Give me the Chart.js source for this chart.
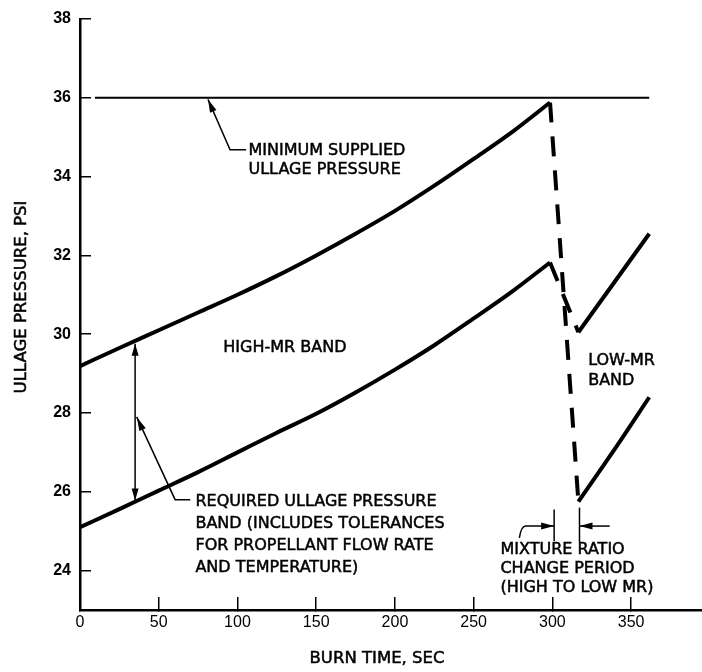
<!DOCTYPE html>
<html>
<head>
<meta charset="utf-8">
<script src="https://cdn.jsdelivr.net/npm/chart.js@4.4.1/dist/chart.umd.min.js"></script>
<style>
  html, body { margin: 0; padding: 0; background: #fff; }
  #wrap { width: 702px; height: 672px; position: relative; }
</style>
</head>
<body>
<div id="wrap"><canvas id="ullageChart"></canvas></div>
<script>
// burn time, sec
const highTime = [0, 25, 50, 75, 100, 125, 150, 175, 200, 225, 250, 275, 298.5];
// high-MR band limits, psi
const highUpper = [29.19, 29.65, 30.1, 30.55, 31.0, 31.48, 32.0, 32.55, 33.13, 33.77, 34.45, 35.15, 35.88];
const highLower = [25.1, 25.56, 26.03, 26.5, 27.0, 27.5, 27.98, 28.52, 29.1, 29.72, 30.4, 31.1, 31.82];
// low-MR band limits, psi
const lowTime = [316.5, 339, 361.5];
const lowUpper = [30.05, 31.3, 32.55];
const lowLower = [25.75, 27.05, 28.4];
// minimum supplied ullage pressure
const minTime = [9.5, 361.5];
const minSupplied = [36, 36];
// axis ticks
const xTicks = [0, 50, 100, 150, 200, 250, 300, 350];
const yTicks = [24, 26, 28, 30, 32, 34, 36, 38];

const pts = (xs, ys) => xs.map((x, i) => ({ x: x, y: ys[i] }));
const last = a => a[a.length - 1];

function curve(data, width, dash) {
    return {
        data: data,
        borderColor: '#000',
        borderWidth: width,
        borderDash: dash || [],
        borderCapStyle: 'butt',
        borderJoinStyle: 'miter',
        pointRadius: 0,
        fill: false,
        cubicInterpolationMode: 'monotone'
    };
}

const labelFont = '16px "DejaVu Sans"';

// leader lines, arrows and notes
const notes = {
    id: 'notes',
    afterDatasetsDraw(chart) {
        const { ctx, scales: { x, y } } = chart;
        const X = v => x.getPixelForValue(v);
        const Y = v => y.getPixelForValue(v);
        ctx.save();
        ctx.strokeStyle = '#000';
        ctx.fillStyle = '#000';
        ctx.lineWidth = 1.5;
        ctx.lineJoin = 'miter';

        function poly(list) {
            ctx.beginPath();
            list.forEach((p, i) => i ? ctx.lineTo(X(p[0]), Y(p[1])) : ctx.moveTo(X(p[0]), Y(p[1])));
            ctx.stroke();
        }
        // arrowhead with tip at (t2, v2), pointing away from (t1, v1)
        function head(t1, v1, t2, v2, len, half) {
            const x1 = X(t1), y1 = Y(v1), x2 = X(t2), y2 = Y(v2);
            const a = Math.atan2(y2 - y1, x2 - x1);
            ctx.beginPath();
            ctx.moveTo(x2, y2);
            ctx.lineTo(x2 - len * Math.cos(a) + half * Math.sin(a), y2 - len * Math.sin(a) - half * Math.cos(a));
            ctx.lineTo(x2 - len * Math.cos(a) - half * Math.sin(a), y2 - len * Math.sin(a) + half * Math.cos(a));
            ctx.closePath();
            ctx.fill();
        }

        // minimum supplied pressure leader
        poly([[81.3, 35.96], [95.3, 34.68], [105.5, 34.68]]);
        head(95.3, 34.68, 81.3, 35.96, 13, 3.5);

        // required band double arrow
        poly([[35, 29.76], [35, 25.78]]);
        head(35, 27.5, 35, 29.76, 12, 3.5);
        head(35, 28, 35, 25.78, 12, 3.5);
        // required band leader
        poly([[36, 27.9], [60.4, 25.8], [70, 25.8]]);
        head(60.4, 25.8, 36, 27.9, 14, 3.5);

        // mixture ratio change period markers
        poly([[301.1, 25.55], [301.1, 24.75]]);
        poly([[317.2, 25.6], [317.2, 24.72]]);
        ctx.beginPath();
        ctx.moveTo(X(279), Y(24.83));
        ctx.quadraticCurveTo(X(280.2), Y(25.13), X(283), Y(25.13));
        ctx.lineTo(X(301.1), Y(25.13));
        ctx.stroke();
        head(283, 25.13, 301.1, 25.13, 13, 3.5);
        poly([[336.4, 25.13], [317.2, 25.13]]);
        head(336.4, 25.13, 317.2, 25.13, 13, 3.5);

        // notes
        ctx.font = labelFont;
        ctx.textAlign = 'left';
        ctx.textBaseline = 'middle';
        ctx.lineWidth = 0.5;
        function text(lines, t, v0, step) {
            lines.forEach((s, i) => {
                ctx.fillText(s, X(t), Y(v0) + i * step);
                ctx.strokeText(s, X(t), Y(v0) + i * step);
            });
        }
        text(['MINIMUM SUPPLIED', 'ULLAGE PRESSURE'], 107, 34.65, 19);
        text(['HIGH-MR BAND'], 91, 29.65, 0);
        text(['LOW-MR', 'BAND'], 322.7, 29.32, 20);
        text(['REQUIRED ULLAGE PRESSURE', 'BAND (INCLUDES TOLERANCES',
              'FOR PROPELLANT FLOW RATE', 'AND TEMPERATURE)'], 73.3, 25.74, 22);
        text(['MIXTURE RATIO', 'CHANGE PERIOD', '(HIGH TO LOW MR)'], 267, 24.52, 19);

        // axis titles
        ctx.textAlign = 'center';
        ctx.font = '16.5px "DejaVu Sans"';
        ctx.fillText('BURN TIME, SEC', 377, 659);
        ctx.strokeText('BURN TIME, SEC', 377, 659);
        ctx.translate(22, 297);
        ctx.rotate(-Math.PI / 2);
        ctx.fillText('ULLAGE PRESSURE, PSI', 0, 0);
        ctx.strokeText('ULLAGE PRESSURE, PSI', 0, 0);
        ctx.restore();
    }
};

const ctx = document.getElementById('ullageChart').getContext('2d');
new Chart(ctx, {
    type: 'line',
    data: {
        datasets: [
            curve(pts(minTime, minSupplied), 2),
            curve(pts(highTime, highUpper), 4),
            curve(pts(highTime, highLower), 4),
            curve([{ x: last(highTime), y: last(highUpper) }, { x: lowTime[0], y: lowLower[0] }], 4, [20, 14]),
            curve([{ x: last(highTime), y: last(highLower) }, { x: lowTime[0], y: lowUpper[0] }], 4, [20, 14]),
            curve(pts(lowTime, lowUpper), 4),
            curve(pts(lowTime, lowLower), 4)
        ]
    },
    options: {
        responsive: true,
        maintainAspectRatio: false,
        animation: false,
        layout: { padding: { top: 19, left: 0, right: 0, bottom: 0 } },
        plugins: {
            legend: { display: false },
            tooltip: { enabled: false }
        },
        scales: {
            x: {
                type: 'linear',
                min: 0,
                max: 395,
                afterBuildTicks: s => { s.ticks = xTicks.map(v => ({ value: v })); },
                afterFit: s => { s.height = 62; s.paddingLeft = 0; s.paddingRight = 0; },
                grid: { drawOnChartArea: false, drawTicks: true, tickLength: -13, color: '#000', lineWidth: 1.5 },
                border: { display: true, color: '#000', width: 2.5 },
                ticks: { color: '#000', padding: 16, maxRotation: 0, font: { family: 'Liberation Sans', size: 16 } }
            },
            y: {
                type: 'linear',
                min: 23,
                max: 38,
                afterBuildTicks: s => { s.ticks = yTicks.map(v => ({ value: v })); },
                afterFit: s => { s.width = 80; s.paddingTop = 10; s.paddingBottom = 0; },
                grid: { drawOnChartArea: false, drawTicks: true, tickLength: -11, color: '#000', lineWidth: 1.5 },
                border: { display: true, color: '#000', width: 2.5 },
                ticks: { color: '#000', padding: 20, font: { family: 'Liberation Sans', size: 16, weight: 'bold' } }
            }
        }
    },
    plugins: [notes]
});
</script>
</body>
</html>
